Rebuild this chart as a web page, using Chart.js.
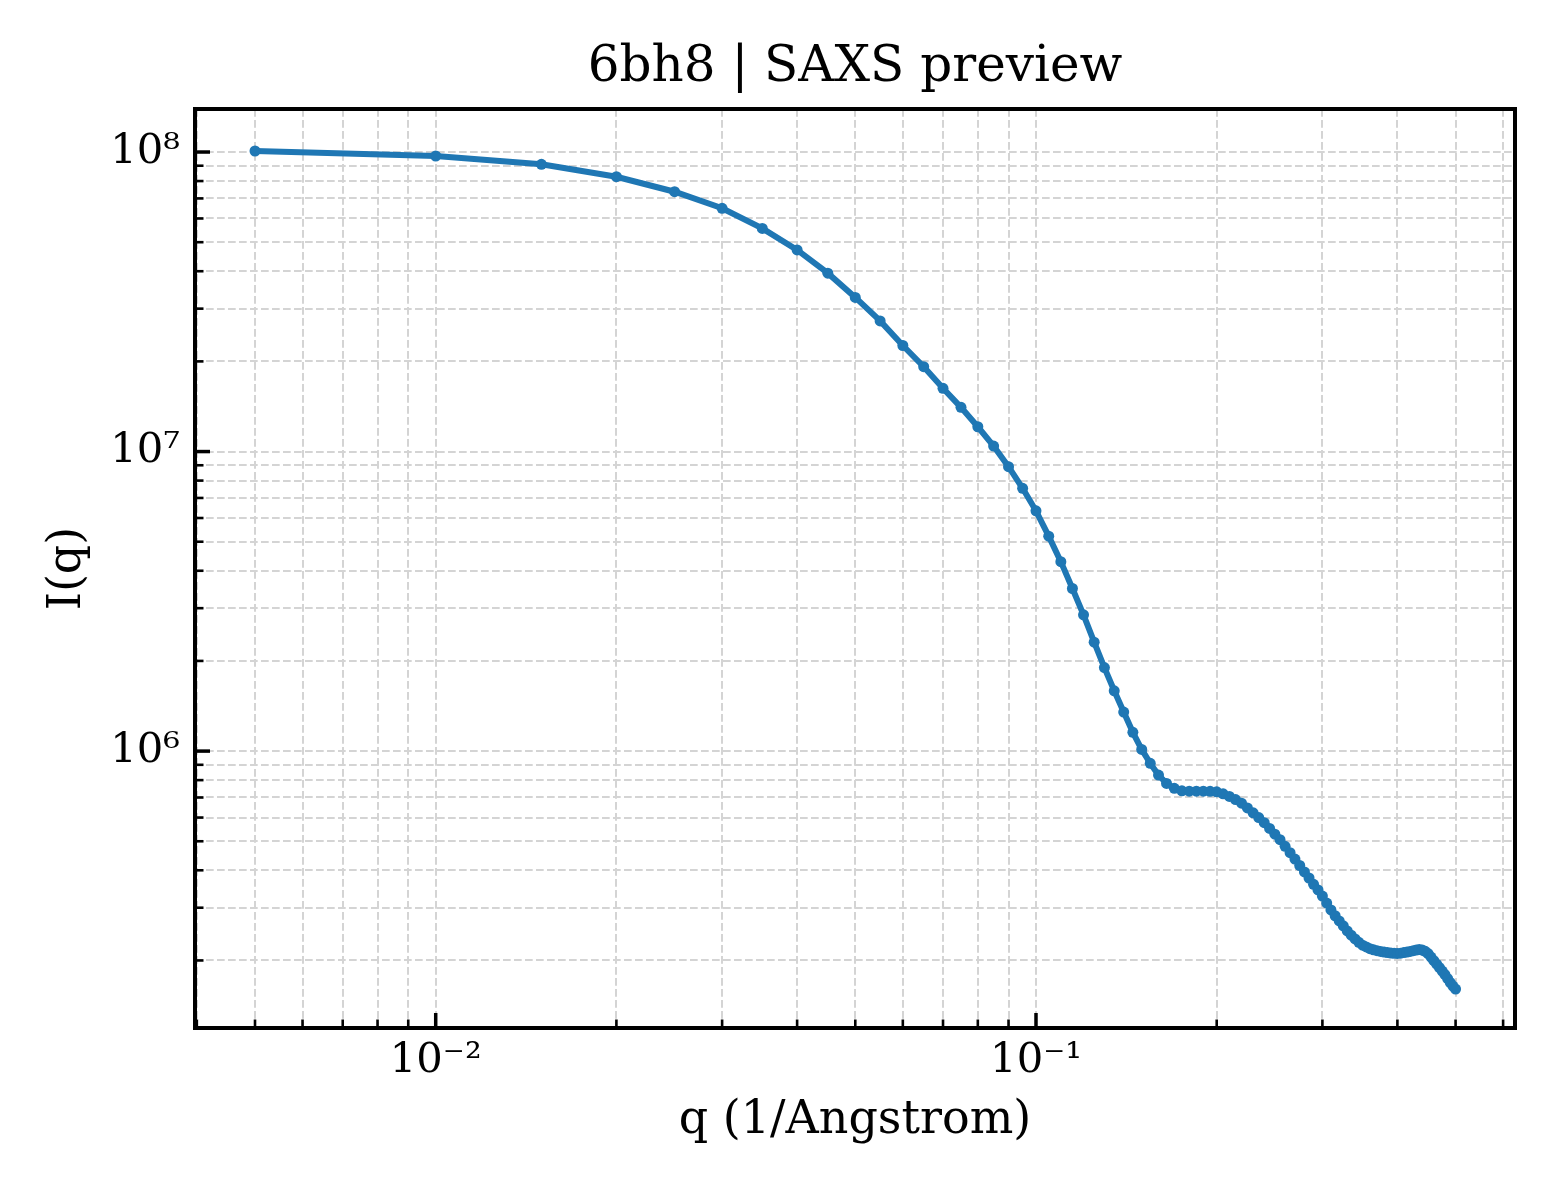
<!DOCTYPE html>
<html>
<head>
<meta charset="utf-8">
<script src="https://cdn.jsdelivr.net/npm/chart.js@4.4.0/dist/chart.umd.min.js"></script>
<style>
  html, body { margin: 0; padding: 0; background: #ffffff; }
  canvas { display: block; }
</style>
</head>
<body>
<canvas id="saxs" width="1560" height="1200"></canvas>
<script>
const qValues = [
    0.005, 0.010, 0.015, 0.020, 0.025, 0.030, 0.035, 0.040, 0.045, 0.050,
    0.055, 0.060, 0.065, 0.070, 0.075, 0.080, 0.085, 0.090, 0.095, 0.100,
    0.105, 0.110, 0.115, 0.120, 0.125, 0.130, 0.135, 0.140, 0.145, 0.150,
    0.155, 0.160, 0.165, 0.170, 0.175, 0.180, 0.185, 0.190, 0.195, 0.200,
    0.205, 0.210, 0.215, 0.220, 0.225, 0.230, 0.235, 0.240, 0.245, 0.250,
    0.255, 0.260, 0.265, 0.270, 0.275, 0.280, 0.285, 0.290, 0.295, 0.300,
    0.305, 0.310, 0.315, 0.320, 0.325, 0.330, 0.335, 0.340, 0.345, 0.350,
    0.355, 0.360, 0.365, 0.370, 0.375, 0.380, 0.385, 0.390, 0.395, 0.400,
    0.405, 0.410, 0.415, 0.420, 0.425, 0.430, 0.435, 0.440, 0.445, 0.450,
    0.455, 0.460, 0.465, 0.470, 0.475, 0.480, 0.485, 0.490, 0.495, 0.500
];

const intensity = [
    1.008e8, 9.70e7, 9.10e7, 8.27e7, 7.37e7, 6.49e7, 5.56e7, 4.71e7, 3.94e7, 3.27e7,
    2.73e7, 2.26e7, 1.92e7, 1.626e7, 1.405e7, 1.21e7, 1.043e7, 8.90e6, 7.54e6, 6.34e6,
    5.22e6, 4.29e6, 3.49e6, 2.85e6, 2.31e6, 1.90e6, 1.59e6, 1.35e6, 1.155e6, 1.013e6,
    9.10e5, 8.32e5, 7.80e5, 7.51e5, 7.37e5, 7.35e5, 7.35e5, 7.35e5, 7.34e5, 7.31e5,
    7.20e5, 7.06e5, 6.89e5, 6.70e5, 6.46e5, 6.22e5, 6.00e5, 5.77e5, 5.52e5, 5.28e5,
    5.06e5, 4.81e5, 4.58e5, 4.36e5, 4.15e5, 3.95e5, 3.77e5, 3.59e5, 3.44e5, 3.28e5,
    3.11e5, 2.95e5, 2.82e5, 2.71e5, 2.61e5, 2.51e5, 2.43e5, 2.36e5, 2.30e5, 2.25e5,
    2.22e5, 2.19e5, 2.17e5, 2.156e5, 2.144e5, 2.133e5, 2.125e5, 2.118e5, 2.113e5, 2.111e5,
    2.116e5, 2.125e5, 2.133e5, 2.144e5, 2.156e5, 2.167e5, 2.176e5, 2.166e5, 2.146e5, 2.108e5,
    2.052e5, 1.997e5, 1.944e5, 1.893e5, 1.843e5, 1.794e5, 1.740e5, 1.687e5, 1.642e5, 1.605e5
];

// tick positions (log axes, major = powers of ten)
const xTicks = [0.004, 0.005, 0.006, 0.007, 0.008, 0.009,
    0.01, 0.02, 0.03, 0.04, 0.05, 0.06, 0.07, 0.08, 0.09,
    0.1, 0.2, 0.3, 0.4, 0.5, 0.6];
const yTicks = [2e5, 3e5, 4e5, 5e5, 6e5, 7e5, 8e5, 9e5,
    1e6, 2e6, 3e6, 4e6, 5e6, 6e6, 7e6, 8e6, 9e6,
    1e7, 2e7, 3e7, 4e7, 5e7, 6e7, 7e7, 8e7, 9e7,
    1e8];
const xRange = [0.003972, 0.628];
const yRange = [1.19e5, 1.392e8];

const FONT = 'DejaVu Serif';
const SUP = {'-': '\u207B', '0': '\u2070', '1': '\u00B9', '2': '\u00B2', '3': '\u00B3',
    '4': '\u2074', '5': '\u2075', '6': '\u2076', '7': '\u2077', '8': '\u2078', '9': '\u2079'};

function isDecade(v) {
    const e = Math.log10(v);
    return Math.abs(e - Math.round(e)) < 1e-9;
}

function decadeLabel(v) {
    if (!isDecade(v)) return '';
    const e = String(Math.round(Math.log10(v)));
    return '10' + e.split('').map(c => SUP[c]).join('');
}

// matplotlib style: ticks pointing inwards + closed frame
const innerTicks = {
    id: 'innerTicks',
    afterDraw(chart) {
        const {ctx, chartArea: a, scales: {x, y}} = chart;
        ctx.save();
        ctx.strokeStyle = '#000000';
        ctx.setLineDash([]);
        x.ticks.forEach(t => {
            const px = x.getPixelForValue(t.value);
            const major = isDecade(t.value);
            ctx.lineWidth = major ? 3.5 : 2.6;
            ctx.beginPath();
            ctx.moveTo(px, a.bottom);
            ctx.lineTo(px, a.bottom - (major ? 15 : 8.5));
            ctx.stroke();
        });
        y.ticks.forEach(t => {
            const py = y.getPixelForValue(t.value);
            const major = isDecade(t.value);
            ctx.lineWidth = major ? 3.5 : 2.6;
            ctx.beginPath();
            ctx.moveTo(a.left, py);
            ctx.lineTo(a.left + (major ? 15 : 8.5), py);
            ctx.stroke();
        });
        ctx.lineWidth = 4;
        ctx.strokeRect(a.left, a.top, a.right - a.left, a.bottom - a.top);
        ctx.restore();
    }
};

const gridOpts = {
    color: '#d4d4d4',
    lineWidth: 2,
    drawTicks: false
};

new Chart(document.getElementById('saxs'), {
    type: 'line',
    data: {
        datasets: [{
            label: 'I(q)',
            data: qValues.map((q, i) => ({x: q, y: intensity[i]})),
            borderColor: '#1f77b4',
            backgroundColor: '#1f77b4',
            borderWidth: 6,
            pointRadius: 5.5,
            pointBorderWidth: 0,
            pointBackgroundColor: '#1f77b4',
            tension: 0,
            fill: false
        }]
    },
    options: {
        responsive: false,
        animation: false,
        devicePixelRatio: 1,
        layout: {
            padding: {left: 0, right: 45, top: 0, bottom: 0}
        },
        plugins: {
            legend: {display: false},
            tooltip: {enabled: false},
            title: {
                display: true,
                fullSize: false,
                text: '6bh8 | SAXS preview',
                color: '#000000',
                font: {family: FONT, size: 50, weight: 'normal', lineHeight: 1.2},
                padding: {top: 38, bottom: 11}
            }
        },
        scales: {
            x: {
                type: 'logarithmic',
                position: 'bottom',
                min: xRange[0],
                max: xRange[1],
                afterBuildTicks: axis => { axis.ticks = xTicks.map(v => ({value: v})); },
                afterFit: axis => { axis.height = 172; },
                grid: gridOpts,
                border: {display: false, dash: [7.7, 3.3]},
                ticks: {
                    autoSkip: false,
                    maxRotation: 0,
                    minRotation: 0,
                    padding: 8,
                    color: '#000000',
                    font: {family: FONT, size: 41.7},
                    callback: value => decadeLabel(value)
                },
                title: {
                    display: true,
                    text: 'q (1/Angstrom)',
                    color: '#000000',
                    font: {family: FONT, size: 46, lineHeight: 1.2},
                    padding: {top: 0, bottom: 51}
                }
            },
            y: {
                type: 'logarithmic',
                position: 'left',
                min: yRange[0],
                max: yRange[1],
                afterBuildTicks: axis => { axis.ticks = yTicks.map(v => ({value: v})); },
                afterFit: axis => { axis.width = 195; },
                grid: gridOpts,
                border: {display: false, dash: [7.7, 3.3]},
                ticks: {
                    autoSkip: false,
                    padding: 15,
                    color: '#000000',
                    font: {family: FONT, size: 41.7},
                    callback: value => decadeLabel(value)
                },
                title: {
                    display: true,
                    text: 'I(q)',
                    color: '#000000',
                    font: {family: FONT, size: 46, lineHeight: 1.2},
                    padding: {top: 40, bottom: 0}
                }
            }
        }
    },
    plugins: [innerTicks]
});
</script>
</body>
</html>
